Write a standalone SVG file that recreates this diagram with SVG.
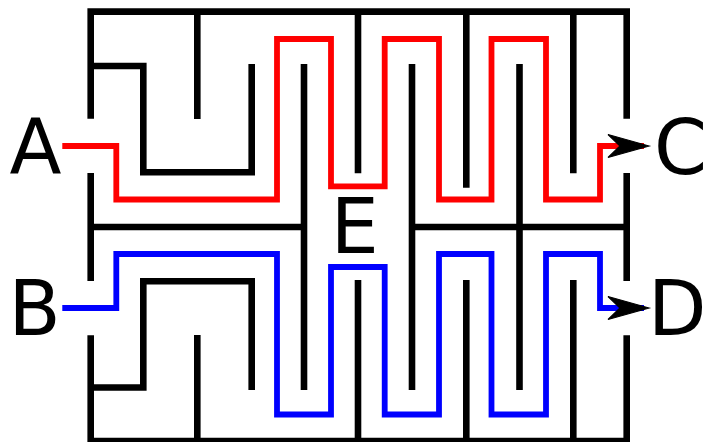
<svg xmlns="http://www.w3.org/2000/svg" width="706" height="442" viewBox="0 0 706 442">
  <style>
    .wall { fill: none; stroke: #000; stroke-width: 6.6; stroke-linecap: butt; stroke-linejoin: miter; }
    .route { fill: none; stroke-width: 5.8; stroke-linecap: butt; stroke-linejoin: miter; marker-end: url(#arrow); }
    .red { stroke: #ff0000; }
    .blue { stroke: #0000ff; }
    .lbl { font-family: "DejaVu Sans", sans-serif; font-size: 76px; fill: #000; }
  </style>
  <defs>
    <marker id="arrow" markerUnits="userSpaceOnUse" markerWidth="60" markerHeight="40" viewBox="-40 -20 60 40" refX="0" refY="0" orient="auto" overflow="visible">
      <path d="M5,0 L-36,-11.5 L-24,0 L-36,11.5 Z" fill="#000" stroke="#000" stroke-width="1.2" stroke-linejoin="miter"/>
    </marker>
  </defs>
  <rect width="706" height="442" fill="#fff"/>
  <g id="maze">
    <path class="wall" d="M90.7,118.7 V11.65 H626.7 V118.7"/>
    <path class="wall" d="M90.7,173 V281"/>
    <path class="wall" d="M90.7,335.3 V441 H626.7 V335.3"/>
    <path class="wall" d="M626.7,173 V281"/>
    <path class="wall" d="M90.7,66 H143.3 V172.3 H251.7 V64"/>
    <path class="wall" d="M197.3,11.65 V119"/>
    <path class="wall" d="M304,64 V390"/>
    <path class="wall" d="M90.7,227 H304"/>
    <path class="wall" d="M412,64 V390"/>
    <path class="wall" d="M412,227 H626.7"/>
    <path class="wall" d="M519.5,64 V390"/>
    <path class="wall" d="M358,11.65 V173.3"/>
    <path class="wall" d="M466.3,11.65 V187.7"/>
    <path class="wall" d="M573.3,11.65 V173.3"/>
    <path class="wall" d="M90.7,387.5 H143.3 V281.3 H251.7 V390"/>
    <path class="wall" d="M197.3,441 V335"/>
    <path class="wall" d="M358,441 V280"/>
    <path class="wall" d="M466.3,441 V280"/>
    <path class="wall" d="M573.3,441 V280"/>
  </g>
  <g id="connectors">
    <path id="route-A-C" class="route red" d="M62.3,146 H116.3 V199.5 H277 V39 H331 V186.3 H384.7 V39 H439 V199.5 H491.5 V39 H546 V199.5 H600 V146 H644"/>
    <path id="route-B-D" class="route blue" d="M62.3,308 H116.3 V254 H277 V414.5 H331 V267 H384.7 V414.5 H439 V254 H491.5 V414.5 H546 V254 H600 V308 H644"/>
  </g>
  <g id="node-A"><text class="lbl" x="9.5" y="173.3">A</text></g>
  <g id="node-B"><text class="lbl" x="8.5" y="335">B</text></g>
  <g id="node-C"><text class="lbl" x="654" y="173.5">C</text></g>
  <g id="node-D"><text class="lbl" x="648" y="335">D</text></g>
  <g id="node-E"><text class="lbl" x="330.8" y="253.3">E</text></g>
</svg>
